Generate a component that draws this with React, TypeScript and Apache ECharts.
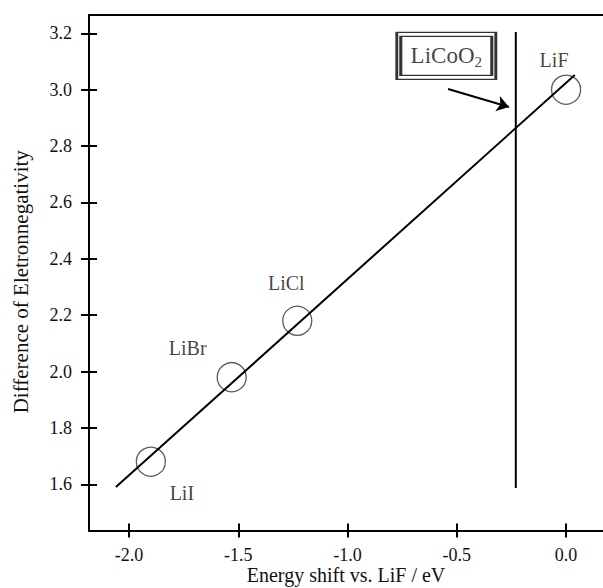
import { useEffect, useRef } from "react";
import * as echarts from "echarts";

const FONT = "'Liberation Serif', 'Times New Roman', serif";

// Data
const compounds = ["LiI", "LiBr", "LiCl", "LiF"];
const energyShift = [-1.9, -1.53, -1.23, 0.0];
const electronegDiff = [1.68, 1.98, 2.18, 3.0];
const fitLineX = [-2.06, 0.04];
const fitLineY = [1.59, 3.052];
const licoo2Shift = -0.23;
const licoo2Range = [1.587, 3.205];
const boxAnchor = [-0.548, 3.12];
const arrowFrom = [-0.54, 3.0024];
const arrowTo = [-0.261, 2.9386];
const xTicks = [-2.0, -1.5, -1.0, -0.5, 0.0];
const yTicks = [1.6, 1.8, 2.0, 2.2, 2.4, 2.6, 2.8, 3.0, 3.2];
const xRange = [-2.183, 0.169];
const yRange = [1.436, 3.265];

// label offsets (pixels) relative to each circle
const labelOffsets = [
  [31, 31],
  [-44, -29],
  [-11, -38],
  [-12, -30],
];

export default function App() {
  const ref = useRef<HTMLDivElement>(null);
  useEffect(() => {
    if (!ref.current) return;
    const chart = echarts.init(ref.current, null, { renderer: "svg" });
    const axisLine = { show: true, onZero: false, lineStyle: { color: "#000", width: 2 } };
    const tickStyle = { color: "#000", width: 2 };
    const fmt = (v: number) => v.toFixed(1);
    const textBase = { fontFamily: FONT, color: "#111" };
    chart.setOption({
      animation: false,
      backgroundColor: "#fff",
      grid: { left: 89, right: 0, top: 15, bottom: 57.5, containLabel: false, outerBoundsMode: "none" },
      xAxis: [
        {
          type: "value", min: xRange[0], max: xRange[1], position: "bottom",
          axisLine,
          axisTick: { show: true, inside: false, length: 7, lineStyle: tickStyle, customValues: xTicks },
          axisLabel: { customValues: xTicks, formatter: fmt, fontSize: 18, margin: 15, ...textBase },
          splitLine: { show: false },
          name: "Energy shift vs. LiF / eV", nameLocation: "middle", nameGap: 33,
          nameMoveOverlap: false,
          nameTextStyle: { fontSize: 20, lineHeight: 22, ...textBase },
        },
        {
          type: "value", min: xRange[0], max: xRange[1], position: "bottom",
          axisLine: { show: false, onZero: false },
          axisTick: { show: true, inside: true, length: 7, lineStyle: tickStyle, customValues: xTicks },
          axisLabel: { show: false }, splitLine: { show: false },
        },
        {
          type: "value", min: xRange[0], max: xRange[1], position: "top",
          axisLine, axisTick: { show: false }, axisLabel: { show: false }, splitLine: { show: false },
        },
      ],
      yAxis: [
        {
          type: "value", min: yRange[0], max: yRange[1], position: "left",
          axisLine,
          axisTick: { show: true, inside: false, length: 8, lineStyle: tickStyle, customValues: yTicks },
          axisLabel: { customValues: yTicks, formatter: fmt, fontSize: 18, margin: 17, ...textBase },
          splitLine: { show: false },
          name: "Difference of Eletronnegativity", nameLocation: "middle", nameGap: 58,
          nameTextStyle: { fontSize: 21, padding: [0, 18, 0, 0], ...textBase },
        },
        {
          type: "value", min: yRange[0], max: yRange[1], position: "left",
          axisLine: { show: false, onZero: false },
          axisTick: { show: true, inside: true, length: 8, lineStyle: tickStyle, customValues: yTicks },
          axisLabel: { show: false }, splitLine: { show: false },
        },
      ],
      series: [
        {
          type: "line", xAxisIndex: 0, yAxisIndex: 0, symbol: "none", silent: true,
          data: fitLineX.map((x, i) => [x, fitLineY[i]]),
          lineStyle: { color: "#000", width: 2 },
        },
        {
          type: "line", xAxisIndex: 0, yAxisIndex: 0, symbol: "none", silent: true,
          data: licoo2Range.map((y) => [licoo2Shift, y]),
          lineStyle: { color: "#000", width: 2 },
        },
        {
          type: "scatter", xAxisIndex: 0, yAxisIndex: 0, symbol: "circle", symbolSize: 29, silent: true,
          itemStyle: { color: "rgba(0,0,0,0)", borderColor: "#333", borderWidth: 1.3 },
          label: { show: true, position: "inside", formatter: "{b}", fontSize: 20, ...textBase },
          data: compounds.map((n, i) => ({
            name: n,
            value: [energyShift[i], electronegDiff[i]],
            label: { offset: labelOffsets[i] },
          })),
        },
        {
          type: "scatter", xAxisIndex: 0, yAxisIndex: 0, symbol: "rect", symbolSize: [99, 47], silent: true,
          itemStyle: { color: "rgba(0,0,0,0)", borderColor: "#000", borderWidth: 2 },
          label: {
            show: true, position: "inside", formatter: "{a|LiCoO}{s|2}",
            rich: {
              a: { fontSize: 23, ...textBase },
              s: { fontSize: 15, padding: [12, 0, 0, 0], ...textBase },
            },
          },
          data: [boxAnchor],
        },
        {
          type: "scatter", xAxisIndex: 0, yAxisIndex: 0, symbol: "rect", symbolSize: [91, 39], silent: true,
          itemStyle: { color: "rgba(0,0,0,0)", borderColor: "#000", borderWidth: 2 },
          data: [boxAnchor],
        },
        {
          type: "lines", coordinateSystem: "cartesian2d", xAxisIndex: 0, yAxisIndex: 0, silent: true,
          symbol: ["none", "arrow"], symbolSize: 12,
          lineStyle: { color: "#000", width: 2, opacity: 1 },
          data: [{ coords: [arrowFrom, arrowTo] }],
        },
      ],
    });
    return () => chart.dispose();
  }, []);
  return (
    <div
      ref={ref}
      style={{ position: "absolute", left: 0, top: 0, width: 603, height: 588, background: "#fff" }}
    />
  );
}
